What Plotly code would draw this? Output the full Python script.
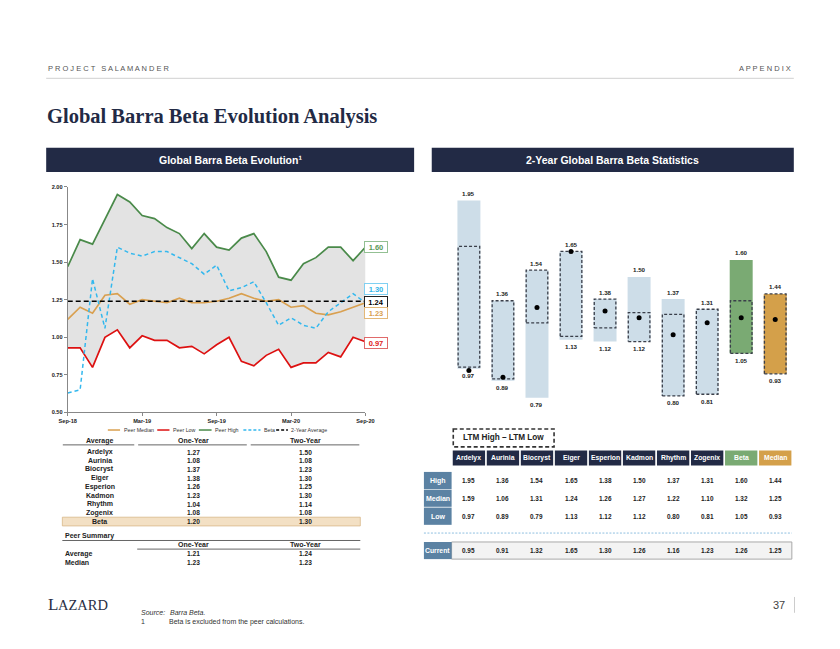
import plotly.graph_objects as go

W, H = 840, 649
SANS = "Liberation Sans, Arial, sans-serif"
SERIF = "Liberation Serif, Times New Roman, serif"
NAVY = "#222a45"

# ---------------- data: left chart ----------------
months = ["Sep-18", "Oct-18", "Nov-18", "Dec-18", "Jan-19", "Feb-19", "Mar-19", "Apr-19", "May-19",
          "Jun-19", "Jul-19", "Aug-19", "Sep-19", "Oct-19", "Nov-19", "Dec-19", "Jan-20", "Feb-20",
          "Mar-20", "Apr-20", "May-20", "Jun-20", "Jul-20", "Aug-20", "Sep-20"]
tick_months = ["Sep-18", "Mar-19", "Sep-19", "Mar-20", "Sep-20"]
peer_high = [1.47, 1.65, 1.62, 1.79, 1.95, 1.90, 1.81, 1.79, 1.73, 1.69, 1.59, 1.69, 1.60,
             1.58, 1.66, 1.69, 1.57, 1.40, 1.38, 1.49, 1.53, 1.60, 1.60, 1.51, 1.60]
peer_low = [0.93, 0.93, 0.80, 1.00, 1.05, 0.93, 1.01, 0.98, 0.98, 0.93, 0.94, 0.89, 0.95,
            1.00, 0.84, 0.81, 0.88, 0.92, 0.80, 0.83, 0.83, 0.90, 0.87, 1.00, 0.97]
peer_median = [1.12, 1.20, 1.16, 1.28, 1.29, 1.22, 1.25, 1.24, 1.23, 1.26, 1.23, 1.23, 1.24,
               1.26, 1.29, 1.26, 1.24, 1.25, 1.20, 1.21, 1.16, 1.15, 1.17, 1.20, 1.23]
beta = [0.63, 0.65, 1.39, 1.06, 1.60, 1.56, 1.54, 1.57, 1.57, 1.53, 1.49, 1.42, 1.48,
        1.31, 1.33, 1.37, 1.23, 1.08, 1.13, 1.08, 1.06, 1.17, 1.23, 1.29, 1.23]
two_year_avg = 1.24
y_ticks = [0.50, 0.75, 1.00, 1.25, 1.50, 1.75, 2.00]
end_labels = ["1.60", "1.30", "1.24", "1.23", "0.97"]

# ---------------- data: left table ----------------
avg_names = ["Ardelyx", "Aurinia", "Biocryst", "Eiger", "Esperion", "Kadmon", "Rhythm", "Zogenix", "Beta"]
avg_one_year = [1.27, 1.08, 1.37, 1.38, 1.26, 1.23, 1.04, 1.08, 1.20]
avg_two_year = [1.50, 1.08, 1.23, 1.30, 1.25, 1.30, 1.14, 1.08, 1.30]
summary_names = ["Average", "Median"]
summary_one_year = [1.21, 1.23]
summary_two_year = [1.24, 1.23]

# ---------------- data: right chart / table ----------------
companies = ["Ardelyx", "Aurinia", "Biocryst", "Eiger", "Esperion", "Kadmon", "Rhythm", "Zogenix", "Beta", "Median"]
two_yr_high = [1.95, 1.36, 1.54, 1.65, 1.37, 1.50, 1.37, 1.31, 1.60, 1.40]
two_yr_low = [0.96, 0.89, 0.79, 1.13, 1.12, 1.12, 0.80, 0.81, 1.05, 0.93]
ltm_high = [1.68, 1.36, 1.54, 1.65, 1.37, 1.29, 1.28, 1.31, 1.36, 1.40]
ltm_low = [0.97, 0.90, 1.23, 1.15, 1.20, 1.12, 0.80, 0.81, 1.05, 0.93]
stat_high = [1.95, 1.36, 1.54, 1.65, 1.38, 1.50, 1.37, 1.31, 1.60, 1.44]
stat_median = [1.59, 1.06, 1.31, 1.24, 1.26, 1.27, 1.22, 1.10, 1.32, 1.25]
stat_low = [0.97, 0.89, 0.79, 1.13, 1.12, 1.12, 0.80, 0.81, 1.05, 0.93]
current = [0.95, 0.91, 1.32, 1.65, 1.30, 1.26, 1.16, 1.23, 1.26, 1.25]

PEER_BLUE = "#cddde8"
BETA_GREEN = "#7aaa73"
MED_ORANGE = "#d4a04a"
bar_colors = [PEER_BLUE] * 8 + [BETA_GREEN, MED_ORANGE]
head_colors = [NAVY] * 8 + [BETA_GREEN, MED_ORANGE]


def X(px):
    return px / W


def Y(py):
    return 1 - py / H


annotations = []
shapes = []


def ann(text, px, py, size=7, color="#000", bold=False, xanchor="center", family=SANS, italic=False, **kw):
    t = text
    if bold:
        t = "<b>" + t + "</b>"
    if italic:
        t = "<i>" + t + "</i>"
    d = dict(text=t, x=X(px), y=Y(py), xref="paper", yref="paper", showarrow=False,
             xanchor=xanchor, yanchor="middle", font=dict(size=size, color=color, family=family))
    d.update(kw)
    annotations.append(d)


def rect(x0, y0, x1, y1, fill=None, line=None, lw=1, dash="solid", **kw):
    d = dict(type="rect", xref="paper", yref="paper", x0=X(x0), x1=X(x1), y0=Y(y0), y1=Y(y1),
             line=dict(color=line if line else "rgba(0,0,0,0)", width=lw if line else 0, dash=dash),
             fillcolor=fill if fill else "rgba(0,0,0,0)", layer="below")
    d.update(kw)
    shapes.append(d)


def hline(x0, x1, py, color="#666", width=1, dash="solid"):
    shapes.append(dict(type="line", xref="paper", yref="paper", x0=X(x0), x1=X(x1), y0=Y(py), y1=Y(py),
                       line=dict(color=color, width=width, dash=dash)))


fig = go.Figure()

# ---------------- header ----------------
ann("P R O J E C T   S A L A M A N D E R", 38, 66, size=7.5, color="#555", xanchor="left")
ann("A P P E N D I X", 801, 66, size=7.5, color="#555", xanchor="right")
hline(38, 802, 76, color="#d0d0d0", width=1)
ann("Global Barra Beta Evolution Analysis", 37, 115, size=20.5, color=NAVY, bold=True, xanchor="left", family=SERIF)
rect(38, 146, 414, 170.5, fill=NAVY)
rect(432, 146, 802, 170.5, fill=NAVY)
ann("Global Barra Beta Evolution¹", 226, 158, size=10.5, color="white", bold=True)
ann("2-Year Global Barra Beta Statistics", 617, 158.5, size=10.5, color="white", bold=True)

# ---------------- left chart ----------------
xi = list(range(len(months)))
fig.add_trace(go.Scatter(x=xi, y=peer_low, mode="lines", line=dict(width=0), showlegend=False,
                         hoverinfo="skip", xaxis="x", yaxis="y"))
fig.add_trace(go.Scatter(x=xi, y=peer_high, mode="lines", line=dict(width=0), fill="tonexty",
                         fillcolor="#e3e3e3", showlegend=False, hoverinfo="skip", xaxis="x", yaxis="y"))
fig.add_trace(go.Scatter(x=xi, y=peer_median, mode="lines", line=dict(color="#d9a050", width=1.7),
                         name="Peer Median", showlegend=False, xaxis="x", yaxis="y"))
fig.add_trace(go.Scatter(x=xi, y=peer_low, mode="lines", line=dict(color="#dd1111", width=1.7),
                         name="Peer Low", showlegend=False, xaxis="x", yaxis="y"))
fig.add_trace(go.Scatter(x=xi, y=peer_high, mode="lines", line=dict(color="#4a8a4a", width=1.7),
                         name="Peer High", showlegend=False, xaxis="x", yaxis="y"))
fig.add_trace(go.Scatter(x=xi, y=beta, mode="lines", line=dict(color="#33b8ee", width=1.5, dash="4px,3px"),
                         name="Beta", showlegend=False, xaxis="x", yaxis="y"))
fig.add_trace(go.Scatter(x=[xi[0], xi[-1]], y=[two_year_avg, two_year_avg], mode="lines",
                         line=dict(color="#000", width=1.7, dash="5px,3px"),
                         name="2-Year Average", showlegend=False, xaxis="x", yaxis="y"))

# end labels (right of left chart)
end_cfg = [("#5a9a5a", "#93c093", 246), ("#33b5e8", "#80d0f2", 288.7), ("#000000", "#222222", 301.3),
           ("#d9a050", "#e3b878", 313.2), ("#e02020", "#e06a6a", 342.8)]
for txt, (tc, bc, py) in zip(end_labels, end_cfg):
    ann(txt, 375.3, py, size=7.5, color=tc, bold=True, bgcolor="white", bordercolor=bc,
        borderwidth=1, borderpad=1, width=20, height=8)

# manual legend
leg_y = 431
legend_items = [("Peer Median", "#d9a050", "solid", 101, 113.5),
                ("Peer Low", "#dd1111", "solid", 151.5, 164),
                ("Peer High", "#4a8a4a", "solid", 194, 207),
                ("Beta", "#33b8ee", "3px,2px", 239.5, 257),
                ("2-Year Average", "#000000", "3px,2px", 273, 285)]
for name, col, dash, x0, x1 in legend_items:
    hline(x0, x1, leg_y, color=col, width=1.5, dash=dash)
    ann(name, x1 + 1.5, leg_y, size=5.3, color="#333", xanchor="left")

# ---------------- left table ----------------
col_name_x, col1_x, col2_x = 92.7, 188.3, 302.7
ann("Average", col_name_x, 441.7, size=7, bold=True, color="#222")
ann("One-Year", col1_x, 441.7, size=7, bold=True, color="#222")
ann("Two-Year", col2_x, 441.7, size=7, bold=True, color="#222")
hline(55, 128, 446, color="#666", width=1)
hline(132, 243, 446, color="#666", width=1)
hline(247, 358, 446, color="#666", width=1)
rect(54.5, 519, 359, 527.8, fill="#f3e0c4", line="#d8b888", lw=0.8)
for k, (nm, v1, v2) in enumerate(zip(avg_names, avg_one_year, avg_two_year)):
    py = 453.3 + 8.75 * k
    ann(nm, col_name_x, py, size=7, bold=True, color="#222")
    ann(f"{v1:.2f}", col1_x, py, size=6.6, bold=True, color="#222")
    ann(f"{v2:.2f}", col2_x, py, size=6.6, bold=True, color="#222")
ann("Peer Summary", 55.5, 538.3, size=7, bold=True, color="#222", xanchor="left")
hline(54.5, 359, 542.5, color="#666", width=1)
ann("One-Year", col1_x, 547, size=7, bold=True, color="#222")
ann("Two-Year", col2_x, 547, size=7, bold=True, color="#222")
hline(131, 359, 551.2, color="#666", width=1)
for k, (nm, v1, v2) in enumerate(zip(summary_names, summary_one_year, summary_two_year)):
    py = 555.7 + 8.6 * k
    ann(nm, 55.5, py, size=7, bold=True, color="#222", xanchor="left")
    ann(f"{v1:.2f}", col1_x, py, size=6.6, bold=True, color="#222")
    ann(f"{v2:.2f}", col2_x, py, size=6.6, bold=True, color="#222")

# ---------------- right chart ----------------
ci = list(range(len(companies)))
bw = 0.675
fig.add_trace(go.Bar(x=ci, y=[h - l for h, l in zip(two_yr_high, two_yr_low)], base=two_yr_low,
                     width=bw, marker=dict(color=bar_colors, line=dict(width=0)),
                     showlegend=False, hoverinfo="skip", xaxis="x2", yaxis="y2"))
for i in ci:
    x0, x1 = i - bw / 2 + 0.02, i + bw / 2 - 0.02
    fig.add_trace(go.Scatter(x=[x0, x1, x1, x0, x0], y=[ltm_low[i], ltm_low[i], ltm_high[i], ltm_high[i], ltm_low[i]],
                             mode="lines", line=dict(color="#3a3f4a", width=1.3, dash="3px,2px"),
                             showlegend=False, hoverinfo="skip", xaxis="x2", yaxis="y2"))
fig.add_trace(go.Scatter(x=ci, y=current, mode="markers", marker=dict(color="black", size=5),
                         showlegend=False, hoverinfo="skip", xaxis="x2", yaxis="y2"))
for i in ci:
    top = max(two_yr_high[i], ltm_high[i])
    bot = min(two_yr_low[i], ltm_low[i])
    annotations.append(dict(text=f"<b>{stat_high[i]:.2f}</b>", x=i, y=top, xref="x2", yref="y2",
                            showarrow=False, yanchor="middle", yshift=7,
                            font=dict(size=6.2, color="#222", family=SANS)))
    annotations.append(dict(text=f"<b>{stat_low[i]:.2f}</b>", x=i, y=bot, xref="x2", yref="y2",
                            showarrow=False, yanchor="middle", yshift=-7,
                            font=dict(size=6.2, color="#222", family=SANS)))

# ---------------- right table ----------------
rect(454, 430, 557, 448, line="#333", lw=1.6, dash="4px,2.5px")
ann("LTM High – LTM Low", 505.5, 439, size=8.2, bold=True, color="#222")
for i, nm in enumerate(companies):
    shapes.append(dict(type="rect", xref="x2", yref="paper", x0=i - 0.475, x1=i + 0.475,
                       y0=Y(466.7), y1=Y(451.7), fillcolor=head_colors[i], line=dict(width=0), layer="below"))
    annotations.append(dict(text=f"<b>{nm}</b>", x=i, y=Y(459.2), xref="x2", yref="paper", showarrow=False,
                            yanchor="middle", font=dict(size=6.8, color="white", family=SANS)))
ROWBLUE = "#5b82a3"
row_specs = [("High", stat_high, 473.3, 490.7), ("Median", stat_median, 491.3, 508.5), ("Low", stat_low, 509.3, 526.7)]
for lab, vals, y0, y1 in row_specs:
    rect(424, y0, 452.3, y1, fill=ROWBLUE)
    ann(lab, 438.5, (y0 + y1) / 2, size=7, bold=True, color="white")
    for i, v in enumerate(vals):
        annotations.append(dict(text=f"<b>{v:.2f}</b>", x=i, y=Y((y0 + y1) / 2), xref="x2", yref="paper",
                                showarrow=False, yanchor="middle", font=dict(size=6.4, color="#222", family=SANS)))
hline(424, 800, 535, color="#8fbfe0", width=1, dash="2px,1.5px")
rect(452.3, 544, 800, 561.3, fill="#f3f3f3", line="#a8a8a8", lw=1)
rect(424, 544, 452.3, 561.3, fill=ROWBLUE)
ann("Current", 438.2, 552.7, size=6.8, bold=True, color="white")
for i, v in enumerate(current):
    annotations.append(dict(text=f"<b>{v:.2f}</b>", x=i, y=Y(552.7), xref="x2", yref="paper",
                            showarrow=False, yanchor="middle", font=dict(size=6.4, color="#222", family=SANS)))

# ---------------- footer ----------------
ann("L", 37.5, 607.5, size=17, color="#2a2f45", xanchor="left", family=SERIF)
ann("AZARD", 48, 607.9, size=14.5, color="#2a2f45", xanchor="left", family=SERIF)
ann("Source:", 132.5, 615, size=7, color="#333", xanchor="left", italic=True)
ann("Barra Beta.", 162.5, 615, size=7, color="#333", xanchor="left", italic=True)
ann("1", 132.5, 624.3, size=7, color="#333", xanchor="left")
ann("Beta is excluded from the peer calculations.", 161.7, 624.3, size=7, color="#333", xanchor="left")
ann("37", 787, 607.7, size=11, color="#444")
shapes.append(dict(type="line", xref="paper", yref="paper", x0=X(802.7), x1=X(802.7), y0=Y(599.5), y1=Y(615.5),
                   line=dict(color="#cccccc", width=1)))

# ---------------- layout ----------------
R_TOP_PX, R_BOT_PX = 185, 420
r_lo = 1.95 - (R_BOT_PX - 199.3) / 171.6
r_hi = 1.95 + (199.3 - R_TOP_PX) / 171.6

fig.update_layout(
    width=W, height=H, margin=dict(l=0, r=0, t=0, b=0),
    paper_bgcolor="white", plot_bgcolor="rgba(0,0,0,0)",
    showlegend=False, barmode="overlay",
    xaxis=dict(domain=[X(60), X(364.3)], range=[0, len(months) - 1], showgrid=False, zeroline=False,
               tickmode="array", tickvals=[months.index(m) for m in tick_months], ticktext=tick_months,
               ticks="outside", ticklen=3, tickcolor="#888", showline=True, linecolor="#888", linewidth=1,
               tickfont=dict(size=5.6, family=SANS, color="#222", weight="bold"), fixedrange=True),
    yaxis=dict(domain=[Y(413.3), Y(185.7)], range=[0.5, 2.0], showgrid=False, zeroline=False,
               tickmode="array", tickvals=y_ticks, ticktext=[f"{v:.2f}" for v in y_ticks],
               ticks="outside", ticklen=3, tickcolor="#888", showline=True, linecolor="#888", linewidth=1,
               tickfont=dict(size=5.6, family=SANS, color="#222", weight="bold"), fixedrange=True),
    xaxis2=dict(domain=[X(452.6), X(800.4)], range=[-0.5, len(companies) - 0.5], visible=False,
                anchor="y2", fixedrange=True),
    yaxis2=dict(domain=[Y(R_BOT_PX), Y(R_TOP_PX)], range=[r_lo, r_hi], visible=False,
                anchor="x2", fixedrange=True),
    annotations=annotations, shapes=shapes,
)

fig.write_html(
    "out.html",
    config={"displayModeBar": False},
    post_script="document.body.style.margin='0';document.body.style.overflow='hidden';"
                "document.documentElement.style.overflow='hidden';",
)
